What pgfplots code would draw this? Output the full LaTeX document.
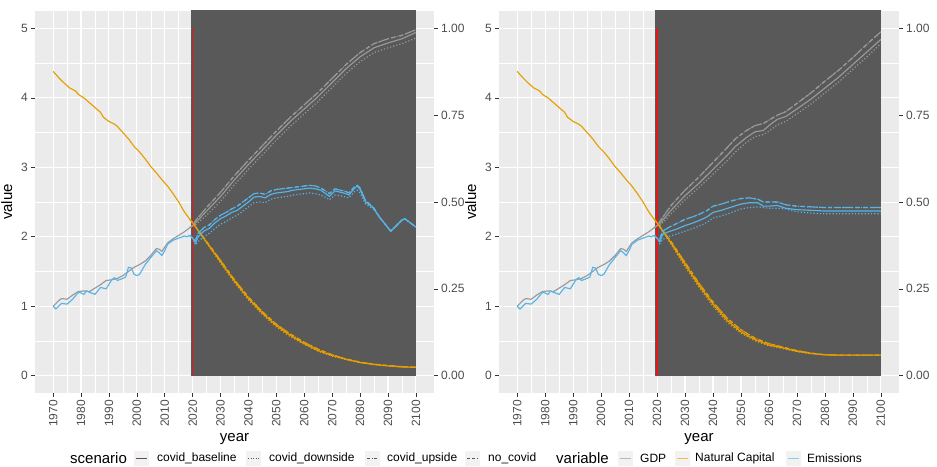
\documentclass[border=0pt]{standalone}
\usepackage{pgfplots}
\pgfplotsset{compat=1.18}
\usepackage{pgfplotstable}
\usepackage{fontspec}
\setmainfont{Liberation Sans}
\usetikzlibrary{calc}

\definecolor{panelbg}{HTML}{EBEBEB}
\definecolor{shade}{HTML}{595959}
\definecolor{gdpc}{HTML}{999999}
\definecolor{natc}{HTML}{E69F00}
\definecolor{emc}{HTML}{56B4E9}
\definecolor{redline}{HTML}{E8161B}
\definecolor{ticklab}{HTML}{4D4D4D}
\definecolor{tickc}{HTML}{333333}
\definecolor{keybg}{HTML}{F2F2F2}
\definecolor{sckey}{HTML}{6B4C4C}

% history, identical in all scenarios and both panels
\pgfplotstableread{
year val
1970 1.00
1972 1.08
1973 1.11
1975 1.10
1977 1.16
1979 1.21
1981 1.22
1983 1.21
1985 1.26
1987 1.31
1989 1.37
1991 1.38
1993 1.40
1995 1.44
1997 1.50
1999 1.56
2001 1.60
2003 1.65
2005 1.73
2007 1.83
2008 1.82
2009 1.79
2011 1.91
2013 1.97
2015 2.02
2017 2.07
2019 2.13
}\histgdp

\pgfplotstableread{
year val
1970 4.38
1972 4.29
1974 4.21
1976 4.14
1978 4.10
1979 4.05
1981 4.00
1983 3.93
1985 3.86
1987 3.79
1988 3.72
1990 3.66
1992 3.62
1993 3.59
1995 3.50
1997 3.41
1999 3.30
2001 3.22
2003 3.12
2005 3.01
2007 2.92
2009 2.82
2011 2.73
2013 2.62
2015 2.50
2017 2.36
2019 2.25
}\histnat

\pgfplotstableread{
year val
1970 1.00
1971 0.96
1973 1.04
1975 1.03
1977 1.10
1979 1.20
1980 1.19
1981 1.17
1982 1.22
1983 1.20
1985 1.17
1987 1.27
1989 1.25
1991 1.38
1992 1.41
1993 1.37
1995 1.40
1996 1.42
1997 1.56
1998 1.55
1999 1.46
2000 1.44
2001 1.46
2003 1.60
2005 1.70
2007 1.80
2008 1.77
2009 1.73
2010 1.80
2011 1.89
2013 1.95
2015 1.98
2017 2.01
2018 2.00
2019 2.02
}\histem

% left panel, after 2019
\pgfplotstableread{
year base down up
2019 2.13 2.13 2.13
2020 2.16 2.16 2.16
2021 2.20 2.17 2.23
2025 2.37 2.31 2.42
2030 2.58 2.51 2.64
2035 2.82 2.75 2.88
2040 3.04 2.97 3.10
2045 3.25 3.18 3.31
2050 3.46 3.39 3.52
2055 3.66 3.59 3.72
2060 3.84 3.77 3.90
2065 4.02 3.95 4.08
2070 4.22 4.15 4.28
2075 4.42 4.35 4.48
2080 4.59 4.52 4.65
2085 4.72 4.65 4.78
2090 4.79 4.72 4.85
2095 4.85 4.78 4.90
2100 4.94 4.86 4.98
}\futLgdp

\pgfplotstableread{
year base down up
2019 2.25 2.25 2.25
2020 2.20 2.20 2.20
2025 1.92 1.91 1.93
2030 1.64 1.62 1.66
2035 1.36 1.34 1.38
2040 1.11 1.09 1.13
2045 0.90 0.88 0.92
2050 0.72 0.70 0.74
2055 0.58 0.56 0.60
2060 0.46 0.45 0.48
2065 0.36 0.35 0.38
2070 0.29 0.28 0.30
2075 0.235 0.23 0.24
2080 0.19 0.185 0.195
2085 0.16 0.16 0.165
2090 0.14 0.14 0.145
2095 0.125 0.125 0.13
2100 0.12 0.12 0.12
}\futLnat

\pgfplotstableread{
year base down up
2019 2.02 2.02 2.02
2020 1.98 1.98 1.98
2021 1.91 1.88 1.95
2022 2.00 1.93 2.05
2024 2.08 2.00 2.13
2026 2.12 2.05 2.17
2028 2.20 2.12 2.25
2030 2.26 2.18 2.31
2032 2.30 2.22 2.35
2034 2.35 2.27 2.40
2036 2.38 2.31 2.44
2038 2.44 2.37 2.50
2040 2.50 2.43 2.56
2042 2.57 2.49 2.62
2044 2.58 2.50 2.63
2046 2.56 2.49 2.61
2048 2.61 2.54 2.66
2050 2.63 2.56 2.68
2052 2.64 2.57 2.69
2054 2.65 2.58 2.70
2056 2.67 2.60 2.71
2058 2.68 2.61 2.72
2060 2.69 2.62 2.73
2062 2.70 2.63 2.74
2064 2.69 2.62 2.73
2066 2.67 2.60 2.70
2068 2.61 2.56 2.65
2069 2.58 2.53 2.62
2071 2.66 2.60 2.69
2073 2.64 2.59 2.67
2075 2.62 2.57 2.65
2076 2.60 2.56 2.63
2078 2.70 2.65 2.72
2079 2.73 2.67 2.74
2080 2.68 2.63 2.70
2082 2.50 2.47 2.52
2084 2.44 2.42 2.45
2085 2.40 2.39 2.41
2087 2.28 2.28 2.28
2089 2.18 2.18 2.18
2091 2.08 2.08 2.08
2093 2.16 2.16 2.16
2095 2.24 2.24 2.24
2096 2.26 2.26 2.26
2098 2.20 2.20 2.20
2100 2.14 2.14 2.14
}\futLem

% right panel, after 2019
\pgfplotstableread{
year base down up
2019 2.13 2.13 2.13
2020 2.16 2.16 2.16
2021 2.19 2.16 2.22
2025 2.38 2.33 2.45
2030 2.59 2.53 2.67
2035 2.77 2.71 2.86
2040 2.97 2.90 3.07
2045 3.17 3.09 3.28
2048 3.30 3.22 3.41
2052 3.43 3.36 3.53
2055 3.51 3.44 3.60
2058 3.53 3.47 3.63
2060 3.60 3.52 3.68
2063 3.69 3.61 3.75
2066 3.73 3.66 3.80
2070 3.84 3.77 3.92
2075 3.98 3.91 4.07
2080 4.14 4.07 4.24
2085 4.30 4.23 4.40
2090 4.48 4.41 4.58
2095 4.66 4.59 4.77
2100 4.84 4.78 4.95
}\futRgdp

\pgfplotstableread{
year base down up
2019 2.25 2.25 2.25
2020 2.20 2.20 2.20
2025 1.91 1.89 1.93
2030 1.60 1.57 1.63
2035 1.30 1.27 1.33
2040 1.03 1.00 1.06
2045 0.80 0.77 0.83
2050 0.63 0.61 0.66
2055 0.52 0.50 0.54
2060 0.44 0.43 0.46
2065 0.40 0.39 0.41
2070 0.35 0.345 0.36
2075 0.32 0.315 0.325
2080 0.30 0.30 0.30
2085 0.295 0.295 0.295
2090 0.295 0.295 0.295
2100 0.295 0.295 0.295
}\futRnat

\pgfplotstableread{
year base down up
2019 2.02 2.02 2.02
2020 1.98 1.98 1.98
2021 1.93 1.90 1.97
2022 2.03 1.96 2.08
2024 2.07 2.00 2.13
2027 2.11 2.04 2.19
2030 2.16 2.08 2.25
2033 2.20 2.12 2.29
2036 2.25 2.17 2.34
2038 2.29 2.21 2.38
2040 2.35 2.27 2.44
2043 2.38 2.30 2.47
2046 2.42 2.34 2.51
2050 2.47 2.40 2.55
2053 2.49 2.42 2.56
2056 2.49 2.43 2.54
2058 2.44 2.42 2.50
2060 2.44 2.41 2.50
2063 2.45 2.41 2.50
2066 2.41 2.40 2.46
2070 2.39 2.36 2.44
2075 2.38 2.34 2.43
2080 2.37 2.33 2.42
2090 2.37 2.33 2.42
2100 2.37 2.33 2.42
}\futRem

\pgfplotsset{
  gg/.style={
    scale only axis, height=382bp,
    xmin=1963.5, xmax=2106.5, ymin=-0.25, ymax=5.25,
    axis background/.style={fill=panelbg},
    axis line style={draw=none},
    grid=both,
    major grid style={white, line width=1.1bp},
    minor grid style={white, line width=0.55bp},
    xtick={1970,1980,...,2100}, minor xtick={1975,1985,...,2095},
    ytick={0,1,...,5}, minor ytick={0.5,1.5,...,4.5},
    xtick pos=lower, ytick pos=left,
    tick align=outside, major tick length=3.7bp, minor tick length=0pt,
    tick style={tickc, line width=0.55bp},
    tick label style={font=\fontsize{12bp}{14bp}\selectfont, text=ticklab},
    x tick label style={rotate=90, anchor=east},
    /pgf/number format/assume math mode=true,
    /pgf/number format/1000 sep={},
    xlabel={year}, ylabel={value},
    label style={font=\fontsize{15bp}{18bp}\selectfont},
    ylabel shift=2bp,
  },
  sec/.style={
    scale only axis, height=382bp,
    xmin=1963.5, xmax=2106.5, ymin=-0.05, ymax=1.05,
    axis line style={draw=none}, xtick=\empty,
    ytick={0,0.25,0.5,0.75,1}, yticklabels={0.00,0.25,0.50,0.75,1.00},
    ytick pos=right, yticklabel pos=right,
    tick align=outside, major tick length=3.7bp,
    tick style={tickc, line width=0.55bp},
    tick label style={font=\fontsize{12bp}{14bp}\selectfont, text=ticklab},
  },
  lw/.style={line width=1.15bp},
  scdown/.style={dash pattern=on 1.2bp off 2bp},
  scup/.style={dash pattern=on 4bp off 2bp on 1bp off 2bp},
  scnoc/.style={dash pattern=on 4bp off 3bp},
}

% one panel: #1 gdp, #2 natural capital, #3 emissions (post-2019 tables)
\newcommand{\panelplots}[3]{%
  \addplot[draw=none, fill=shade] coordinates {(2019.3,0) (2100,0) (2100,6) (2019.3,6)} -- cycle;
  \addplot[redline, line width=1.7bp] coordinates {(2020,0) (2020,5)};
  \addplot[gdpc, lw] table[x=year, y=val] {\histgdp};
  \addplot[natc, lw] table[x=year, y=val] {\histnat};
  \addplot[emc, lw] table[x=year, y=val] {\histem};
  \addplot[gdpc, lw, scdown] table[x=year, y=down] {#1};
  \addplot[gdpc, lw, scup] table[x=year, y=up] {#1};
  \addplot[gdpc, lw, scnoc] table[x=year, y=up] {#1};
  \addplot[gdpc, lw] table[x=year, y=base] {#1};
  \addplot[natc, lw, scdown] table[x=year, y=down] {#2};
  \addplot[natc, lw, scup] table[x=year, y=up] {#2};
  \addplot[natc, lw, scnoc] table[x=year, y=up] {#2};
  \addplot[natc, lw] table[x=year, y=base] {#2};
  \addplot[emc, lw, scdown] table[x=year, y=down] {#3};
  \addplot[emc, lw, scup] table[x=year, y=up] {#3};
  \addplot[emc, lw, scnoc] table[x=year, y=up] {#3};
  \addplot[emc, lw] table[x=year, y=base] {#3};
}

\newcommand{\legkey}[2]{% x position, line options
  \fill[keybg] (#1,1bp) rectangle ++(15bp,15bp);
  \draw[line width=1.1bp, #2] ($(#1,8.5bp)+(2bp,0)$) -- ++(11bp,0);
}

\begin{document}
\begin{tikzpicture}
\useasboundingbox (0,0) rectangle (937bp,467bp);

\begin{axis}[gg, width=399bp, at={(35bp,74bp)}, anchor=south west]
  \panelplots{\futLgdp}{\futLnat}{\futLem}
\end{axis}
\begin{axis}[sec, width=399bp, at={(35bp,74bp)}, anchor=south west]
\end{axis}

\begin{axis}[gg, width=400bp, at={(499bp,74bp)}, anchor=south west]
  \panelplots{\futRgdp}{\futRnat}{\futRem}
\end{axis}
\begin{axis}[sec, width=400bp, at={(499bp,74bp)}, anchor=south west]
\end{axis}

% legend
\begin{scope}[every node/.style={inner sep=0pt, anchor=west}]
  \node[font=\fontsize{15bp}{18bp}\selectfont] at (70bp,8.5bp) {scenario};
  \legkey{134bp}{sckey}
  \node[font=\fontsize{12bp}{14bp}\selectfont] at (157bp,8.5bp) {covid\_baseline};
  \legkey{246bp}{sckey, dash pattern=on 1bp off 1.5bp}
  \node[font=\fontsize{12bp}{14bp}\selectfont] at (269bp,8.5bp) {covid\_downside};
  \legkey{365bp}{sckey, dash pattern=on 3bp off 1.5bp on 1bp off 1.5bp}
  \node[font=\fontsize{12bp}{14bp}\selectfont] at (387bp,8.5bp) {covid\_upside};
  \legkey{465bp}{sckey, dash pattern=on 3bp off 2bp}
  \node[font=\fontsize{12bp}{14bp}\selectfont] at (488bp,8.5bp) {no\_covid};
  \node[font=\fontsize{15bp}{18bp}\selectfont] at (556bp,8.5bp) {variable};
  \legkey{618bp}{gdpc!70}
  \node[font=\fontsize{12bp}{14bp}\selectfont] at (640bp,8.5bp) {GDP};
  \legkey{675bp}{natc!70}
  \node[font=\fontsize{12bp}{14bp}\selectfont] at (695bp,8.5bp) {Natural Capital};
  \legkey{786bp}{emc!70}
  \node[font=\fontsize{12bp}{14bp}\selectfont] at (807bp,8.5bp) {Emissions};
\end{scope}
\end{tikzpicture}
\end{document}
